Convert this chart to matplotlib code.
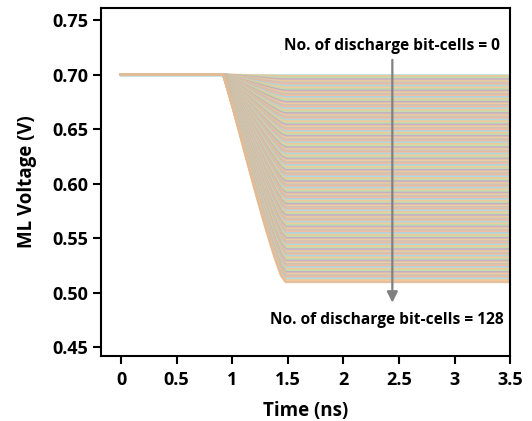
import numpy as np
import matplotlib
matplotlib.use('agg')
import matplotlib.pyplot as plt

# settled match-line voltage for 0..128 discharging bit-cells (V)
final_v = [
    0.7000, 0.6985, 0.6970, 0.6955, 0.6941, 0.6926, 0.6911, 0.6896, 0.6881, 0.6866,
    0.6852, 0.6837, 0.6822, 0.6807, 0.6792, 0.6777, 0.6763, 0.6748, 0.6733, 0.6718,
    0.6703, 0.6688, 0.6673, 0.6659, 0.6644, 0.6629, 0.6614, 0.6599, 0.6584, 0.6570,
    0.6555, 0.6540, 0.6525, 0.6510, 0.6495, 0.6480, 0.6466, 0.6451, 0.6436, 0.6421,
    0.6406, 0.6391, 0.6377, 0.6362, 0.6347, 0.6332, 0.6317, 0.6302, 0.6288, 0.6273,
    0.6258, 0.6243, 0.6228, 0.6213, 0.6198, 0.6184, 0.6169, 0.6154, 0.6139, 0.6124,
    0.6109, 0.6095, 0.6080, 0.6065, 0.6050, 0.6035, 0.6020, 0.6005, 0.5991, 0.5976,
    0.5961, 0.5946, 0.5931, 0.5916, 0.5902, 0.5887, 0.5872, 0.5857, 0.5842, 0.5827,
    0.5813, 0.5798, 0.5783, 0.5768, 0.5753, 0.5738, 0.5723, 0.5709, 0.5694, 0.5679,
    0.5664, 0.5649, 0.5634, 0.5620, 0.5605, 0.5590, 0.5575, 0.5560, 0.5545, 0.5530,
    0.5516, 0.5501, 0.5486, 0.5471, 0.5456, 0.5441, 0.5427, 0.5412, 0.5397, 0.5382,
    0.5367, 0.5352, 0.5338, 0.5323, 0.5308, 0.5293, 0.5278, 0.5263, 0.5248, 0.5234,
    0.5219, 0.5204, 0.5189, 0.5174, 0.5159, 0.5145, 0.5130, 0.5115, 0.5100,
]
v_pre = 0.70
# time points (ns) and fraction of the total drop reached at each
t_ns = [0.0, 0.92, 1.00, 1.10, 1.20, 1.30, 1.38, 1.44, 1.48, 3.50]
drop_frac = [0.0, 0.0, 0.15, 0.35, 0.55, 0.74, 0.88, 0.97, 1.0, 1.0]

x_ticks = [0, 0.5, 1, 1.5, 2, 2.5, 3, 3.5]
x_ticklabels = ['0', '0.5', '1', '1.5', '2', '2.5', '3', '3.5']
y_ticks = [0.45, 0.50, 0.55, 0.60, 0.65, 0.70, 0.75]

plt.rcParams['font.family'] = ['Open Sans', 'DejaVu Sans']
plt.rcParams['font.weight'] = 'bold'

palette = ['#9fd8e4', '#f8c38a', '#b8dca8', '#c3a4c3', '#eccb94', '#c8bdb4', '#f2b496']

fig = plt.figure(figsize=(5.32, 4.21), dpi=100)
ax = fig.add_axes([0.190, 0.154, 0.769, 0.827])

t = np.array(t_ns)
frac = np.array(drop_frac)
for i, vf in enumerate(final_v):
    c = palette[i % len(palette)]
    if i == len(final_v) - 1:
        c = '#e2b994'
    ax.plot(t, v_pre - frac * (v_pre - vf), color=c, lw=1.8, alpha=0.85,
            solid_joinstyle='round')

ax.annotate('', xy=(2.44, 0.4885), xytext=(2.44, 0.716),
            arrowprops=dict(arrowstyle='-|>', color='#808080', lw=1.6,
                            mutation_scale=16))
ax.text(2.44, 0.7265, 'No. of discharge bit-cells = 0', ha='center', va='center',
        fontsize=11.2, fontweight='bold')
ax.text(2.39, 0.4755, 'No. of discharge bit-cells = 128', ha='center', va='center',
        fontsize=11.2, fontweight='bold')

ax.set_xlim(-0.18, 3.5)
ax.set_ylim(0.442, 0.761)
ax.set_xticks(x_ticks)
ax.set_xticklabels(x_ticklabels)
ax.set_yticks(y_ticks)
ax.set_yticklabels(['%.2f' % v for v in y_ticks])
ax.tick_params(axis='both', direction='out', length=6, width=1.5, labelsize=13)
ax.tick_params(axis='x', pad=5)
for s in ax.spines.values():
    s.set_linewidth(1.5)

ax.set_xlabel('Time (ns)', fontsize=13.5, fontweight='bold', labelpad=8)
ax.set_ylabel('ML Voltage (V)', fontsize=13.5, fontweight='bold', labelpad=11)

fig.savefig('out.png', dpi=100)
plt.close()
